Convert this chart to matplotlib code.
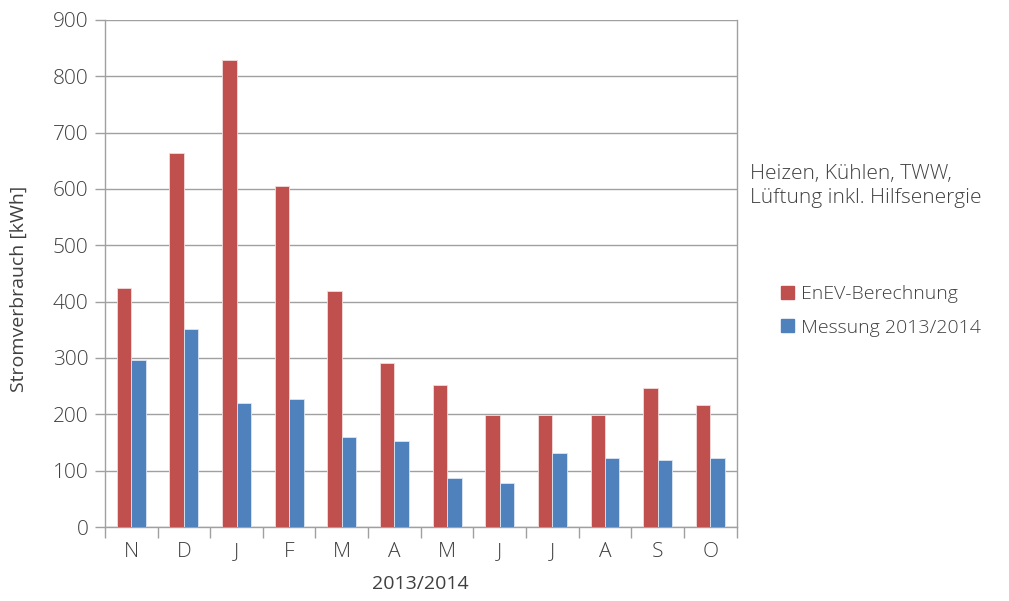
import numpy as np
import matplotlib.pyplot as plt
from matplotlib.patches import Patch

months = ["N", "D", "J", "F", "M", "A", "M", "J", "J", "A", "S", "O"]
enev = [424, 664, 829, 605, 419, 291, 252, 199, 199, 199, 247, 217]
messung = [296, 351, 220, 227, 160, 153, 87, 78, 131, 122, 119, 122]

RED = "#C0504D"
BLUE = "#4F81BD"
TXT = "#404040"
GRID = "#A0A0A0"

plt.rcParams['font.family'] = ['Open Sans', 'DejaVu Sans']
plt.rcParams['font.weight'] = 'light'

fig = plt.figure(figsize=(10.09, 6.01), dpi=100)
ax = fig.add_axes([0.104, 0.123, 0.626, 0.844])

x = np.arange(len(months))
w = 0.275
ax.bar(x - w / 2, enev, w, color=RED, edgecolor="#F2DCDB", linewidth=0.6, zorder=3)
ax.bar(x + w / 2, messung, w, color=BLUE, edgecolor="#DCE6F2", linewidth=0.6, zorder=3)

ax.set_xlim(-0.5, len(months) - 0.5)
ax.set_ylim(0, 900)
ax.set_yticks(np.arange(0, 901, 100))
ax.yaxis.grid(True, color=GRID, linewidth=1.0, zorder=0)

# month labels centred, tick marks on the category borders
ax.set_xticks(x)
ax.set_xticklabels(months)
ax.set_xticks(np.arange(-0.5, len(months)), minor=True)
ax.tick_params(axis="x", which="major", length=0, pad=11, labelsize=15, labelcolor=TXT)
ax.tick_params(axis="x", which="minor", length=8, width=1, color=GRID, direction="out")
ax.tick_params(axis="y", length=7, width=1, color=GRID, labelsize=15, labelcolor=TXT, pad=5)

for s in ["left", "bottom", "right"]:
    ax.spines[s].set_color(GRID)
    ax.spines[s].set_linewidth(1.0)
ax.spines["top"].set_visible(False)

ax.set_ylabel("Stromverbrauch [kWh]", fontsize=14, color=TXT)
ax.yaxis.set_label_coords(-0.122, 0.47)
ax.set_xlabel("2013/2014", fontsize=14, color=TXT, labelpad=9)

fig.text(0.743, 0.69, "Heizen, Kühlen, TWW,\nLüftung inkl. Hilfsenergie",
         fontsize=15, color=TXT, va="center", ha="left", linespacing=1.25)

handles = [Patch(color=RED, label="EnEV-Berechnung"),
           Patch(color=BLUE, label="Messung 2013/2014")]
fig.legend(handles=handles, loc="upper left", bbox_to_anchor=(0.757, 0.555),
           frameon=False, fontsize=14, handlelength=0.65, handleheight=0.65,
           handletextpad=0.35, labelspacing=0.8, labelcolor=TXT)

fig.savefig("out.png", dpi=100)
